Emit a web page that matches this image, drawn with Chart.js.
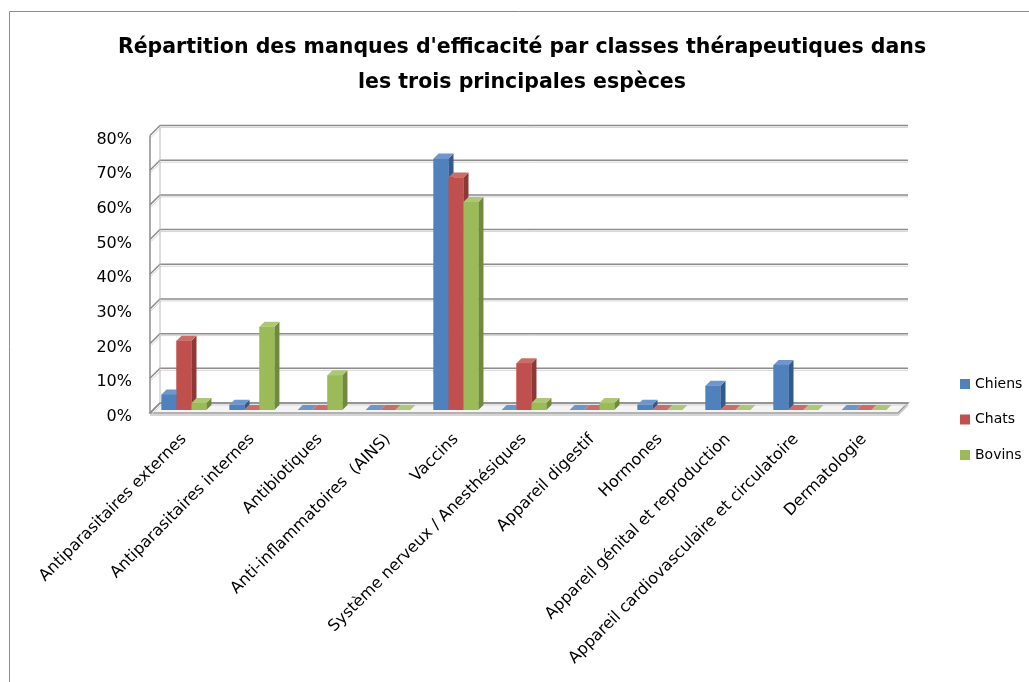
<!DOCTYPE html>
<html>
<head>
<meta charset="utf-8">
<script src="https://cdn.jsdelivr.net/npm/chart.js@4.4.0/dist/chart.umd.min.js"></script>
<style>
  html, body { margin: 0; padding: 0; background: #fff; }
  #wrap { width: 1029px; height: 682px; }
</style>
</head>
<body>
<div id="wrap"><canvas id="chart" width="1029" height="682"></canvas></div>
<script>
const categories = [
    'Antiparasitaires externes',
    'Antiparasitaires internes',
    'Antibiotiques',
    'Anti-inflammatoires  (AINS)',
    'Vaccins',
    'Système nerveux / Anesthésiques',
    'Appareil digestif',
    'Hormones',
    'Appareil génital et reproduction',
    'Appareil cardiovasculaire et circulatoire',
    'Dermatologie'
];
const seriesNames = ['Chiens', 'Chats', 'Bovins'];
const chiens = [4.5, 1.5, 0, 0, 72.5, 0, 0, 1.5, 7, 13, 0];
const chats = [20, 0, 0, 0, 67, 13.5, 0, 0, 0, 0, 0];
const bovins = [2, 24, 10, 0, 60, 2, 2, 0, 0, 0, 0];
const yTicks = [0, 10, 20, 30, 40, 50, 60, 70, 80];

const FONT = 'DejaVu Sans';
const front = ['#4F81BD', '#C0504D', '#9BBB59'];
const side = ['#345a8a', '#8c3836', '#6f8a3c'];
const top3d = ['#6d97cc', '#cc6c69', '#adc873'];

// 3D wall depth and bar depth
const WALL = 10;
const BAR = 5;

const wallPlugin = {
    id: 'wall3d',
    beforeDraw(chart) {
        const ctx = chart.ctx;
        // outer frame (only left + top visible in the picture)
        ctx.save();
        ctx.strokeStyle = '#8c8c8c';
        ctx.lineWidth = 1;
        ctx.beginPath();
        ctx.moveTo(9.5, 682);
        ctx.lineTo(9.5, 11.5);
        ctx.lineTo(1029, 11.5);
        ctx.stroke();
        ctx.restore();
    },
    beforeDatasetsDraw(chart) {
        const ctx = chart.ctx;
        const y = chart.scales.y;
        const { left, right } = chart.chartArea;
        const base = y.getPixelForValue(0);
        ctx.save();
        // floor
        ctx.fillStyle = '#f4f4f4';
        ctx.beginPath();
        ctx.moveTo(left, base + 3);
        ctx.lineTo(right, base + 3);
        ctx.lineTo(right + WALL, base + 3 - WALL);
        ctx.lineTo(left + WALL, base + 3 - WALL);
        ctx.closePath();
        ctx.fill();
        ctx.strokeStyle = '#9a9a9a';
        ctx.lineWidth = 1.5;
        ctx.stroke();
        ctx.strokeStyle = '#c8c8c8';
        ctx.beginPath();
        ctx.moveTo(left, base + 5);
        ctx.lineTo(right, base + 5);
        ctx.lineTo(right + WALL, base + 5 - WALL);
        ctx.stroke();

        yTicks.forEach(v => {
            const py = y.getPixelForValue(v);
            ctx.strokeStyle = '#d4d4d4';
            ctx.lineWidth = 1;
            ctx.beginPath();
            ctx.moveTo(left + 1, py + 5);
            ctx.lineTo(left + WALL + 1, py - WALL + 5);
            ctx.lineTo(right + WALL, py - WALL + 5);
            ctx.stroke();
            ctx.strokeStyle = '#8c8c8c';
            ctx.lineWidth = 1.5;
            ctx.beginPath();
            ctx.moveTo(left, py + 3);
            ctx.lineTo(left + WALL, py + 3 - WALL);
            ctx.lineTo(right + WALL, py + 3 - WALL);
            ctx.stroke();
        });
        const topPx = y.getPixelForValue(yTicks[yTicks.length - 1]);
        ctx.strokeStyle = '#8c8c8c';
        ctx.lineWidth = 1.5;
        ctx.beginPath();
        ctx.moveTo(left, base + 3);
        ctx.lineTo(left, topPx + 3);
        ctx.stroke();
        ctx.strokeStyle = '#bcbcbc';
        ctx.lineWidth = 1;
        ctx.beginPath();
        ctx.moveTo(left + WALL, base + 3 - WALL);
        ctx.lineTo(left + WALL, topPx + 3 - WALL);
        ctx.stroke();
        ctx.restore();
    },
    afterDatasetsDraw(chart) {
        const ctx = chart.ctx;
        ctx.save();
        // redraw each group left to right so the next front face hides the previous side face
        for (let i = 0; i < categories.length; i++) {
            chart.data.datasets.forEach((ds, d) => {
                const bar = chart.getDatasetMeta(d).data[i];
                const x0 = bar.x - bar.width / 2;
                const x1 = bar.x + bar.width / 2;
                const yt = bar.y;
                const yb = bar.base;
                ctx.fillStyle = side[d];
                ctx.beginPath();
                ctx.moveTo(x1, yt);
                ctx.lineTo(x1 + BAR, yt - BAR);
                ctx.lineTo(x1 + BAR, yb - BAR);
                ctx.lineTo(x1, yb);
                ctx.closePath();
                ctx.fill();
                ctx.fillStyle = top3d[d];
                ctx.beginPath();
                ctx.moveTo(x0, yt);
                ctx.lineTo(x0 + BAR, yt - BAR);
                ctx.lineTo(x1 + BAR, yt - BAR);
                ctx.lineTo(x1, yt);
                ctx.closePath();
                ctx.fill();
                ctx.fillStyle = front[d];
                ctx.fillRect(x0, yt, x1 - x0, yb - yt);
            });
        }
        ctx.restore();
    },
    afterDraw(chart) {
        // legend on the right, lower than the Chart.js legend would sit
        const ctx = chart.ctx;
        const { right, bottom } = chart.chartArea;
        ctx.save();
        ctx.font = '14px "' + FONT + '"';
        ctx.textBaseline = 'middle';
        chart.data.datasets.forEach((ds, d) => {
            const cy = bottom - 26 + d * 35.5;
            ctx.fillStyle = front[d];
            ctx.fillRect(right + 62, cy - 5, 10, 10);
            ctx.fillStyle = '#000';
            ctx.fillText(ds.label, right + 77, cy);
        });
        ctx.restore();
    }
};

new Chart(document.getElementById('chart'), {
    type: 'bar',
    data: {
        labels: categories,
        datasets: [
            { label: seriesNames[0], data: chiens, backgroundColor: front[0] },
            { label: seriesNames[1], data: chats, backgroundColor: front[1] },
            { label: seriesNames[2], data: bovins, backgroundColor: front[2] }
        ]
    },
    options: {
        responsive: false,
        animation: false,
        layout: { padding: { left: 15, right: 0, top: 0, bottom: 0 } },
        datasets: {
            bar: { categoryPercentage: 0.66, barPercentage: 1.0 }
        },
        plugins: {
            legend: { display: false },
            tooltip: { enabled: false },
            title: {
                display: true,
                text: [
                    "Répartition des manques d'efficacité par classes thérapeutiques dans",
                    'les trois principales espèces'
                ],
                color: '#000',
                font: { family: FONT, size: 20.5, weight: 'bold', lineHeight: 1.72 },
                padding: { top: 30, bottom: 32 }
            }
        },
        scales: {
            x: {
                grid: { display: false },
                border: { display: false },
                ticks: {
                    autoSkip: false,
                    minRotation: 45,
                    maxRotation: 45,
                    padding: 12,
                    color: '#000',
                    font: { family: FONT, size: 16 }
                },
                afterFit(scale) { scale.height = 272; }
            },
            y: {
                min: 0,
                max: 80,
                grid: { display: false },
                border: { display: false },
                ticks: {
                    stepSize: 10,
                    padding: 10,
                    labelOffset: 7,
                    color: '#000',
                    font: { family: FONT, size: 16 },
                    callback: v => v + '%'
                },
                afterFit(scale) { scale.width = 135; }
            },
            // empty right axis: keeps room for the legend
            y2: {
                position: 'right',
                grid: { display: false },
                border: { display: false },
                ticks: { display: false },
                afterFit(scale) { scale.width = 131; }
            }
        }
    },
    plugins: [wallPlugin]
});
</script>
</body>
</html>
